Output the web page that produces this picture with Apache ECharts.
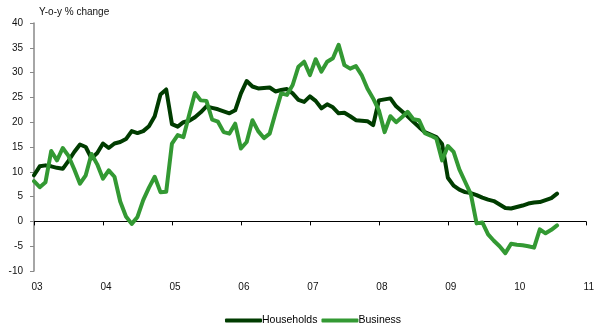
<!DOCTYPE html>
<html>
<head>
<meta charset="utf-8">
<script src="https://cdn.jsdelivr.net/npm/echarts@6/dist/echarts.min.js"></script>
<style>
  html, body { margin: 0; padding: 0; background: #fff; }
  #chart { width: 597px; height: 326px; }
</style>
</head>
<body>
<div id="chart"></div>
<script>
// Monthly year-on-year growth, Jan 2003 – Aug 2010
const yearLabels = ['03', '04', '05', '06', '07', '08', '09', '10', '11'];
const seriesNames = ['Households', 'Business'];

const households = [
  9.3, 11.1, 11.3, 11.1, 10.8, 10.6, 12.2, 14.0, 15.5, 15.0, 12.7, 13.8,
  15.7, 14.8, 15.7, 16.0, 16.6, 18.2, 17.8, 18.2, 19.2, 21.2, 25.6, 26.6,
  19.6, 19.1, 20.0, 20.3, 21.0, 22.0, 23.2, 22.9, 22.6, 22.2, 21.8, 22.4,
  25.8, 28.3, 27.2, 26.8, 26.9, 27.0, 26.2, 26.5, 26.7, 25.8, 24.5, 24.1,
  25.2, 24.3, 22.8, 23.6, 23.0, 21.8, 21.9, 21.2, 20.4, 20.3, 20.2, 19.4,
  24.4, 24.6, 24.8, 23.2, 22.2, 21.2, 20.1, 19.0, 18.0, 17.5, 17.0, 15.6,
  8.8, 7.2, 6.4, 5.9, 5.7, 5.3, 4.8, 4.4, 4.1, 3.4, 2.7, 2.6,
  2.9, 3.2, 3.6, 3.8, 3.9, 4.3, 4.7, 5.6
];

const business = [
  8.1, 6.9, 7.9, 14.2, 12.3, 14.8, 13.2, 10.5, 7.6, 9.3, 13.6, 11.5,
  8.6, 10.3, 9.0, 4.0, 1.0, -0.5, 0.9, 4.3, 6.8, 9.0, 5.9, 6.0,
  15.7, 17.4, 17.0, 21.5, 25.9, 24.4, 24.3, 20.5, 20.1, 18.0, 17.7, 19.7,
  14.7, 16.0, 20.4, 18.2, 16.8, 17.7, 21.8, 25.8, 25.5, 27.5, 31.2, 32.2,
  29.5, 32.7, 30.2, 32.2, 32.9, 35.6, 31.5, 30.8, 31.3, 29.5, 26.8, 24.8,
  22.4, 18.0, 21.2, 20.0, 21.0, 22.1, 20.6, 20.4, 17.8, 17.3, 16.7, 12.3,
  15.2, 14.0, 10.5, 8.0, 5.5, -0.4, -0.2, -2.6, -3.9, -5.0, -6.4, -4.5,
  -4.7, -4.8, -5.0, -5.3, -1.6, -2.4, -1.7, -0.8
];

const toPoints = arr => arr.map((v, i) => [i, v]);
const font = 'Liberation Sans, Arial, sans-serif';

const chart = echarts.init(document.getElementById('chart'), null, { renderer: 'canvas' });

chart.setOption({
  animation: false,
  backgroundColor: '#ffffff',
  textStyle: { fontFamily: font },
  grid: { left: 34, right: 9, top: 23, bottom: 55, containLabel: false },
  legend: {
    left: 220,
    top: 310,
    itemWidth: 37,
    itemHeight: 4,
    itemGap: 4,
    icon: 'roundRect',
    textStyle: { fontSize: 10.5, color: '#000', fontFamily: font, padding: [0, 0, 0, -5] },
    data: seriesNames
  },
  xAxis: [
    {
      type: 'value',
      min: 0,
      max: 96,
      interval: 12,
      axisLine: { show: true, onZero: true, lineStyle: { color: '#000', width: 1 } },
      axisTick: { show: true, length: 4, lineStyle: { color: '#000' } },
      axisLabel: { show: false },
      splitLine: { show: false }
    },
    {
      type: 'value',
      position: 'bottom',
      min: 0,
      max: 96,
      interval: 12,
      axisLine: { show: false, onZero: false },
      axisTick: { show: false },
      axisLabel: {
        show: true,
        margin: 11,
        fontSize: 10,
        color: '#111',
        padding: [0, 0, 0, 6],
        formatter: v => yearLabels[Math.round(v / 12)]
      },
      splitLine: { show: false }
    }
  ],
  yAxis: {
    type: 'value',
    min: -10,
    max: 40,
    interval: 5,
    name: 'Y-o-y % change',
    nameLocation: 'end',
    nameGap: 6,
    nameTextStyle: { fontSize: 10, color: '#111', align: 'left', padding: [0, 0, 0, 5] },
    axisLine: { show: true, onZero: false, lineStyle: { color: '#888', width: 1.5 } },
    axisTick: { show: true, length: 4, lineStyle: { color: '#888' } },
    axisLabel: { fontSize: 10, color: '#111', margin: 11 },
    splitLine: { show: false }
  },
  series: [
    {
      name: seriesNames[0],
      type: 'line',
      xAxisIndex: 0,
      data: toPoints(households),
      showSymbol: false,
      symbol: 'none',
      lineStyle: { color: '#003c00', width: 4, join: 'round', cap: 'round' },
      itemStyle: { color: '#003c00' }
    },
    {
      name: seriesNames[1],
      type: 'line',
      xAxisIndex: 0,
      data: toPoints(business),
      showSymbol: false,
      symbol: 'none',
      lineStyle: { color: '#339933', width: 4, join: 'round', cap: 'round' },
      itemStyle: { color: '#339933' }
    }
  ]
});
</script>
</body>
</html>
